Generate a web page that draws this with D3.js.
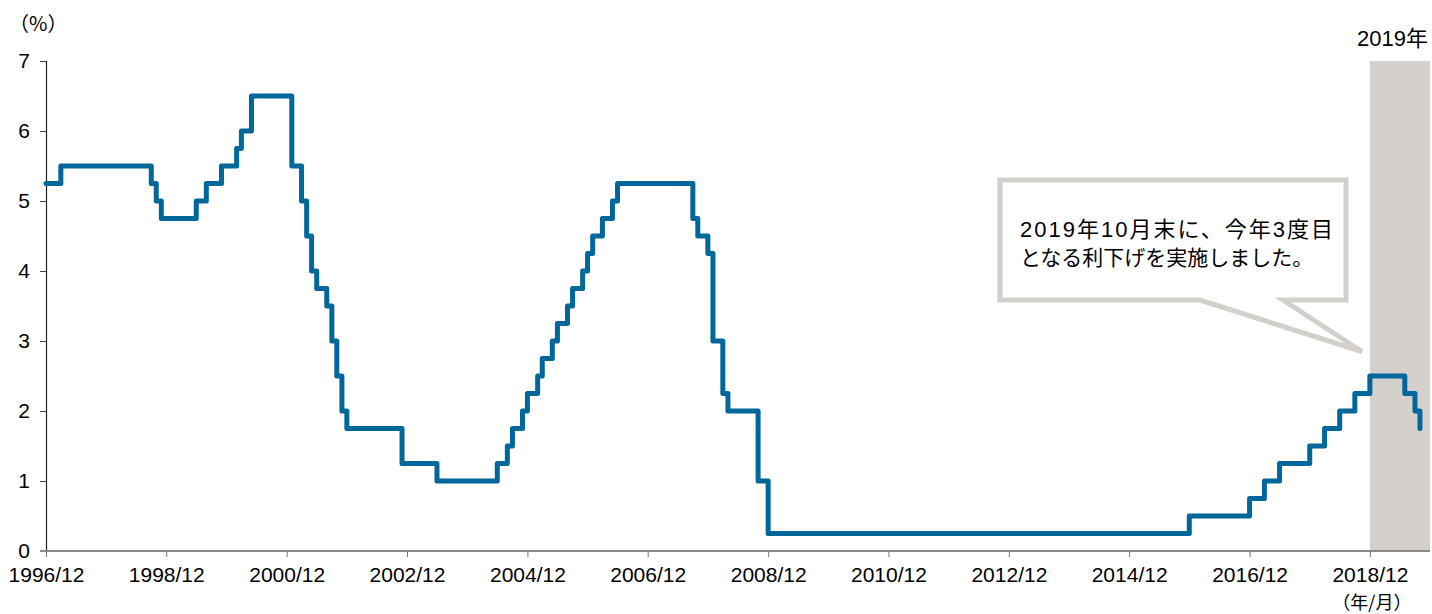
<!DOCTYPE html>
<html>
<head>
<meta charset="utf-8">
<script src="https://cdn.jsdelivr.net/npm/d3@7"></script>
<style>
  body { margin: 0; background: #fff; }
  svg { display: block; font-family: "Liberation Sans", Arial, "Noto Sans CJK JP", sans-serif; }
</style>
</head>
<body>
<svg id="chart"></svg>
<script>
    /* data: month the end-of-month rate changed, and the rate (%) */
    let changeMonths = ["1996/12","1997/03","1998/09","1998/10","1998/11","1999/06","1999/08","1999/11",
        "2000/02","2000/03","2000/05","2001/01","2001/03","2001/04","2001/05","2001/06","2001/08",
        "2001/09","2001/10","2001/11","2001/12","2002/11","2003/06","2004/06","2004/08","2004/09",
        "2004/11","2004/12","2005/02","2005/03","2005/05","2005/06","2005/08","2005/09","2005/11",
        "2005/12","2006/01","2006/03","2006/05","2006/06","2007/09","2007/10","2007/12","2008/01",
        "2008/03","2008/04","2008/10","2008/12","2015/12","2016/12","2017/03","2017/06","2017/12",
        "2018/03","2018/06","2018/09","2018/12","2019/07","2019/09","2019/10"];
    let rates = [5.25,5.5,5.25,5.0,4.75,5.0,5.25,5.5,
        5.75,6.0,6.5,5.5,5.0,4.5,4.0,3.75,3.5,
        3.0,2.5,2.0,1.75,1.25,1.0,1.25,1.5,1.75,
        2.0,2.25,2.5,2.75,3.0,3.25,3.5,3.75,4.0,
        4.25,4.5,4.75,5.0,5.25,4.75,4.5,4.25,3.0,
        2.25,2.0,1.0,0.25,0.5,0.75,1.0,1.25,1.5,
        1.75,2.0,2.25,2.5,2.25,2.0,1.75];
    let xTickLabels = ["1996/12","1998/12","2000/12","2002/12","2004/12","2006/12","2008/12",
        "2010/12","2012/12","2014/12","2016/12","2018/12"];
    let yTicks = [0,1,2,3,4,5,6,7];
    let highlightStart = "2018/12";
    let highlightEnd = "2019/12";
    let highlightLabel = "2019年";
    let noteLines = ["2019年10月末に、今年3度目", "となる利下げを実施しました。"];

    let width = 1432;
    let height = 614;
    let padLeft = 46, padRight = 1430, padTop = 61, padBottom = 551;
    let lineColor = "#00679b";
    let bandColor = "#d4d1cc";

    const parseMonth = d3.timeParse("%Y/%m");
    const svg = d3.select("#chart").attr("width", width).attr("height", height);

    const values = changeMonths.map((m, i) => ({ date: parseMonth(m), rate: rates[i] }));

    const xScale = d3.scaleTime()
        .domain([parseMonth(xTickLabels[0]), parseMonth(highlightEnd)])
        .range([padLeft, padRight]);
    const yScale = d3.scaleLinear().domain([0, 7]).range([padBottom, padTop]);

    // 2019 band
    svg.append("rect")
        .attr("x", xScale(parseMonth(highlightStart)))
        .attr("y", yScale(7))
        .attr("width", xScale(parseMonth(highlightEnd)) - xScale(parseMonth(highlightStart)))
        .attr("height", yScale(0) - yScale(7))
        .attr("fill", bandColor);
    svg.append("text")
        .attr("x", 1428)
        .attr("y", 46)
        .attr("text-anchor", "end")
        .attr("font-size", 22)
        .attr("fill", "#000")
        .text(highlightLabel);

    // axes
    let yAxis = d3.axisLeft(yScale).tickValues(yTicks).tickSize(6).tickPadding(10).tickFormat(d3.format("d"));
    let gy = svg.append("g").attr("transform", "translate(" + padLeft + ",0)").call(yAxis);
    gy.select(".domain").attr("stroke", "#222").attr("stroke-width", 1.2);
    gy.selectAll(".tick line").attr("stroke", "#444");
    gy.selectAll("text").attr("font-size", 21).attr("fill", "#000").attr("font-family", null);

    let xAxis = d3.axisBottom(xScale)
        .tickValues(xTickLabels.map(parseMonth))
        .tickSize(6).tickSizeOuter(0).tickPadding(10)
        .tickFormat(d3.timeFormat("%Y/%m"));
    let gx = svg.append("g").attr("transform", "translate(0," + padBottom + ")").call(xAxis);
    gx.select(".domain").attr("stroke", "#8a8a8a").attr("stroke-width", 2)
        .attr("d", "M" + (padLeft - 6) + ",0H" + padRight);
    gx.selectAll(".tick line").attr("stroke", "#777");
    gx.selectAll("text").attr("font-size", 21).attr("fill", "#000").attr("font-family", null);

    // unit labels
    svg.append("text").attr("x", 9).attr("y", 31).attr("font-size", 20)
        .attr("font-family", "'Noto Sans CJK JP', sans-serif").attr("fill", "#000").text("（%）");
    svg.append("text").attr("x", xScale(parseMonth(highlightStart)) + 2).attr("y", 609)
        .attr("text-anchor", "middle").attr("font-size", 18)
        .attr("font-family", "'Noto Sans CJK JP', sans-serif").attr("fill", "#000").text("（年/月）");

    // rate line
    const line = d3.line()
        .x(d => xScale(d.date))
        .y(d => yScale(d.rate))
        .curve(d3.curveStepAfter);
    svg.append("path")
        .datum(values)
        .attr("d", line)
        .attr("fill", "none")
        .attr("stroke", lineColor)
        .attr("stroke-width", 5)
        .attr("stroke-linejoin", "round")
        .attr("stroke-linecap", "round");

    // callout
    let tipX = xScale(parseMonth(highlightStart)) - 8;
    let tipY = yScale(2.85);
    let bx0 = 1000, bx1 = 1346, by0 = 180, by1 = 300;
    svg.append("path")
        .attr("d", "M" + bx0 + "," + by0 + "H" + bx1 + "V" + by1 + "H1283L" + tipX + "," + tipY +
            "L1200," + by1 + "H" + bx0 + "Z")
        .attr("fill", "#fff")
        .attr("stroke", "#d3d0cb")
        .attr("stroke-width", 5);
    svg.append("text").attr("x", 1020).attr("y", 237).attr("font-size", 22).attr("fill", "#000")
        .attr("textLength", 313).attr("lengthAdjust", "spacing").text(noteLines[0]);
    svg.append("text").attr("x", 1020).attr("y", 265).attr("font-size", 21).attr("fill", "#000")
        .text(noteLines[1]);
</script>
</body>
</html>
